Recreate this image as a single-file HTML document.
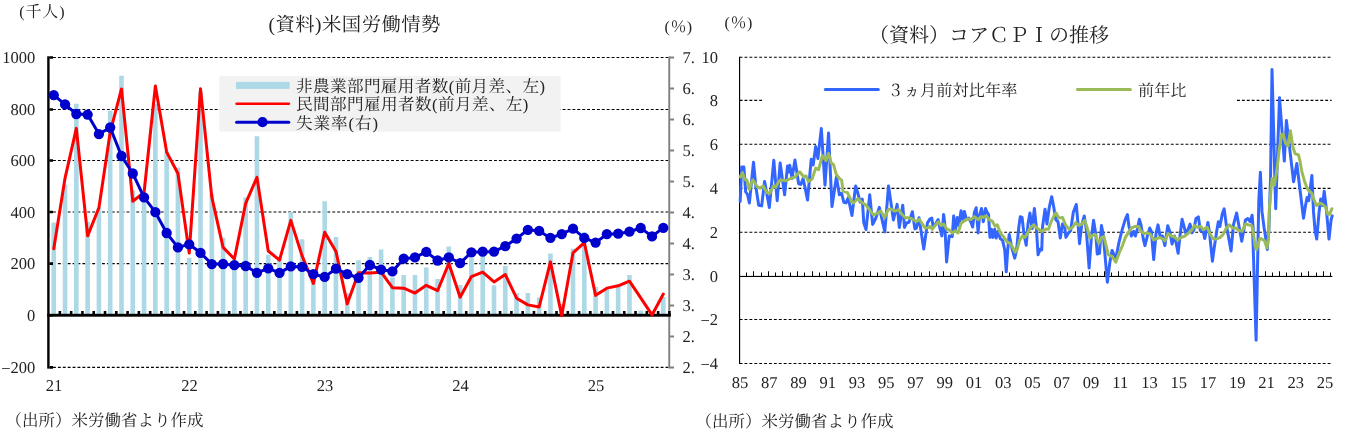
<!DOCTYPE html>
<html lang="ja"><head><meta charset="utf-8"><title>米国労働情勢・コアＣＰＩの推移</title>
<style>html,body{margin:0;padding:0;background:#fff}body{width:1355px;height:439px;overflow:hidden;font-family:"Liberation Serif",serif}svg{display:block;will-change:transform}text{font-family:"Liberation Serif",serif;font-size:16.5px;fill:#222;text-rendering:geometricPrecision}.g{stroke:#000;stroke-width:1.1;stroke-dasharray:2.9 2;fill:none}.cj{fill:#222;font-family:"Liberation Serif","Noto Serif CJK SC","Noto Sans CJK JP",serif}</style>
</head><body>
<svg width="1355" height="439" viewBox="0 0 1355 439">
<rect width="1355" height="439" fill="#fff"/>
<g id="left-chart">
<line class="g" x1="53" y1="57.5" x2="668.35" y2="57.5"/>
<line class="g" x1="53" y1="109.45" x2="668.35" y2="109.45"/>
<line class="g" x1="53" y1="160.45" x2="668.35" y2="160.45"/>
<line class="g" x1="53" y1="212" x2="668.35" y2="212"/>
<line class="g" x1="53" y1="263.6" x2="668.35" y2="263.6"/>
<line class="g" x1="53" y1="367.4" x2="668.35" y2="367.4"/>
<path d="M51.46 222.43h4.6V315.2h-4.6zM62.75 184.55h4.6V315.2h-4.6zM74.04 103.63h4.6V315.2h-4.6zM85.33 221.65h4.6V315.2h-4.6zM96.62 207.74h4.6V315.2h-4.6zM107.9 110.84h4.6V315.2h-4.6zM119.19 75.8h4.6V315.2h-4.6zM130.48 190.22h4.6V315.2h-4.6zM141.77 197.43h4.6V315.2h-4.6zM153.06 103.89h4.6V315.2h-4.6zM164.34 151.3h4.6V315.2h-4.6zM175.63 167.54h4.6V315.2h-4.6zM186.92 257.73h4.6V315.2h-4.6zM198.21 92.03h4.6V315.2h-4.6zM209.5 193.82h4.6V315.2h-4.6zM220.78 237.63h4.6V315.2h-4.6zM232.07 259.79h4.6V315.2h-4.6zM243.36 197.43h4.6V315.2h-4.6zM254.65 136.36h4.6V315.2h-4.6zM265.94 254.64h4.6V315.2h-4.6zM277.22 257.99h4.6V315.2h-4.6zM288.51 212.12h4.6V315.2h-4.6zM299.8 239.18h4.6V315.2h-4.6zM311.09 279.9h4.6V315.2h-4.6zM322.38 201.3h4.6V315.2h-4.6zM333.66 237.12h4.6V315.2h-4.6zM344.95 293.3h4.6V315.2h-4.6zM356.24 260.31h4.6V315.2h-4.6zM367.53 256.96h4.6V315.2h-4.6zM378.82 249.49h4.6V315.2h-4.6zM390.1 277.58h4.6V315.2h-4.6zM401.39 275h4.6V315.2h-4.6zM412.68 275h4.6V315.2h-4.6zM423.97 267.53h4.6V315.2h-4.6zM435.26 279.12h4.6V315.2h-4.6zM446.54 246.39h4.6V315.2h-4.6zM457.83 285.05h4.6V315.2h-4.6zM469.12 257.99h4.6V315.2h-4.6zM480.41 251.81h4.6V315.2h-4.6zM491.7 285.31h4.6V315.2h-4.6zM502.98 265.98h4.6V315.2h-4.6zM514.27 293.3h4.6V315.2h-4.6zM525.56 293.04h4.6V315.2h-4.6zM536.85 297.42h4.6V315.2h-4.6zM548.14 253.61h4.6V315.2h-4.6zM559.42 304.12h4.6V315.2h-4.6zM570.71 248.71h4.6V315.2h-4.6zM582 232.22h4.6V315.2h-4.6zM593.29 287.11h4.6V315.2h-4.6zM604.58 288.4h4.6V315.2h-4.6zM615.86 286.34h4.6V315.2h-4.6zM627.15 275h4.6V315.2h-4.6zM638.44 310.56h4.6V315.2h-4.6zM649.73 311.59h4.6V315.2h-4.6zM661.02 296.9h4.6V315.2h-4.6z" fill="#add8e6"/>
<rect x="219.3" y="76.2" width="341.3" height="55.3" fill="#f2f2f2"/>
<rect x="236" y="81.9" width="53.6" height="7" fill="#add8e6"/>
<line x1="236.6" y1="103.7" x2="288.8" y2="103.7" stroke="#f00" stroke-width="2.6" stroke-linecap="round"/>
<line x1="236.6" y1="122.2" x2="288.8" y2="122.2" stroke="#0000cd" stroke-width="3" stroke-linecap="round"/>
<circle cx="262.5" cy="122.2" r="5.1" fill="#0000cd"/>
<rect x="668.3" y="56.5" width="1.9" height="311.9" fill="#808080"/>
<path d="M669.25 56.5h4.8v2h-4.8zM669.25 87.49h4.8v2h-4.8zM669.25 118.48h4.8v2h-4.8zM669.25 149.47h4.8v2h-4.8zM669.25 180.46h4.8v2h-4.8zM669.25 211.45h4.8v2h-4.8zM669.25 242.44h4.8v2h-4.8zM669.25 273.43h4.8v2h-4.8zM669.25 304.42h4.8v2h-4.8zM669.25 335.41h4.8v2h-4.8zM669.25 366.4h4.8v2h-4.8z" fill="#808080"/>
<rect x="47.2" y="313.8" width="623.7" height="2.9" fill="#000"/>
<path d="M58.56 311h2.6v3h-2.6zM69.85 311h2.6v3h-2.6zM81.13 311h2.6v3h-2.6zM92.42 311h2.6v3h-2.6zM103.71 311h2.6v3h-2.6zM115 311h2.6v3h-2.6zM126.29 311h2.6v3h-2.6zM137.57 311h2.6v3h-2.6zM148.86 311h2.6v3h-2.6zM160.15 311h2.6v3h-2.6zM171.44 311h2.6v3h-2.6zM182.73 311h2.6v3h-2.6zM194.01 311h2.6v3h-2.6zM205.3 311h2.6v3h-2.6zM216.59 311h2.6v3h-2.6zM227.88 311h2.6v3h-2.6zM239.17 311h2.6v3h-2.6zM250.45 311h2.6v3h-2.6zM261.74 311h2.6v3h-2.6zM273.03 311h2.6v3h-2.6zM284.32 311h2.6v3h-2.6zM295.61 311h2.6v3h-2.6zM306.89 311h2.6v3h-2.6zM318.18 311h2.6v3h-2.6zM329.47 311h2.6v3h-2.6zM340.76 311h2.6v3h-2.6zM352.05 311h2.6v3h-2.6zM363.33 311h2.6v3h-2.6zM374.62 311h2.6v3h-2.6zM385.91 311h2.6v3h-2.6zM397.2 311h2.6v3h-2.6zM408.49 311h2.6v3h-2.6zM419.77 311h2.6v3h-2.6zM431.06 311h2.6v3h-2.6zM442.35 311h2.6v3h-2.6zM453.64 311h2.6v3h-2.6zM464.93 311h2.6v3h-2.6zM476.21 311h2.6v3h-2.6zM487.5 311h2.6v3h-2.6zM498.79 311h2.6v3h-2.6zM510.08 311h2.6v3h-2.6zM521.37 311h2.6v3h-2.6zM532.65 311h2.6v3h-2.6zM543.94 311h2.6v3h-2.6zM555.23 311h2.6v3h-2.6zM566.52 311h2.6v3h-2.6zM577.81 311h2.6v3h-2.6zM589.09 311h2.6v3h-2.6zM600.38 311h2.6v3h-2.6zM611.67 311h2.6v3h-2.6zM622.96 311h2.6v3h-2.6zM634.25 311h2.6v3h-2.6zM645.53 311h2.6v3h-2.6zM656.82 311h2.6v3h-2.6zM668.11 311h2.6v3h-2.6z" fill="#000"/>
<rect x="47.2" y="56.3" width="2.4" height="312.3" fill="#000"/>
<path d="M49.4 56.2h3.6v2.6h-3.6zM49.4 108.15h3.6v2.6h-3.6zM49.4 159.15h3.6v2.6h-3.6zM49.4 210.7h3.6v2.6h-3.6zM49.4 262.3h3.6v2.6h-3.6zM49.4 313.9h3.6v2.6h-3.6zM49.4 366.1h3.6v2.6h-3.6z" fill="#000"/>
<polyline points="53.76,248.71 65.05,178.1 76.34,128.37 87.63,235.83 98.92,207.74 110.2,132.23 121.49,88.94 132.78,201.3 144.07,192.53 155.36,86.1 166.64,152.08 177.93,173.47 189.22,253.09 200.51,88.68 211.8,197.17 223.08,247.42 234.37,259.02 245.66,203.36 256.95,177.33 268.24,251.03 279.52,260.05 290.81,220.37 302.1,255.93 313.39,283.5 324.68,232.22 335.96,251.55 347.25,303.86 358.54,272.68 369.83,272.94 381.12,272.16 392.4,287.63 403.69,288.14 414.98,293.04 426.27,285.31 437.56,290.72 448.84,263.4 460.13,297.16 471.42,276.54 482.71,272.16 494,281.96 505.28,274.48 516.57,298.19 527.86,304.89 539.15,306.95 550.44,261.86 561.72,315.72 573.01,252.84 584.3,242.53 595.59,295.36 606.88,288.14 618.16,285.82 629.45,281.18 640.74,297.93 652.03,314.94 663.32,294.07" fill="none" stroke="#f00" stroke-width="3" stroke-linejoin="round" stroke-linecap="round"/>
<polyline points="53.76,95.2 65.05,104.4 76.34,114 87.63,114.6 98.92,134.1 110.2,127.5 121.49,156 132.78,173.5 144.07,197.4 155.36,212.2 166.64,233 177.93,247.4 189.22,244.3 200.51,252.8 211.8,264.1 223.08,264 234.37,265.2 245.66,266 256.95,272.8 268.24,268.4 279.52,272.9 290.81,266.4 302.1,266.8 313.39,274.2 324.68,276.9 335.96,268.7 347.25,274.2 358.54,277.8 369.83,265 381.12,269.6 392.4,271.4 403.69,258.7 414.98,257.4 426.27,251.9 437.56,260.5 448.84,257.4 460.13,263.2 471.42,252.3 482.71,251.7 494,251.7 505.28,246.2 516.57,238.6 527.86,229.8 539.15,230.9 550.44,237.9 561.72,234.2 573.01,228.7 584.3,237.9 595.59,242.6 606.88,234.2 618.16,233.7 629.45,231.7 640.74,228 652.03,236.4 663.32,227.8" fill="none" stroke="#0000cd" stroke-width="3" stroke-linejoin="round" stroke-linecap="round"/>
<g fill="#0000cd"><circle cx="53.76" cy="95.2" r="5.15"/><circle cx="65.05" cy="104.4" r="5.15"/><circle cx="76.34" cy="114" r="5.15"/><circle cx="87.63" cy="114.6" r="5.15"/><circle cx="98.92" cy="134.1" r="5.15"/><circle cx="110.2" cy="127.5" r="5.15"/><circle cx="121.49" cy="156" r="5.15"/><circle cx="132.78" cy="173.5" r="5.15"/><circle cx="144.07" cy="197.4" r="5.15"/><circle cx="155.36" cy="212.2" r="5.15"/><circle cx="166.64" cy="233" r="5.15"/><circle cx="177.93" cy="247.4" r="5.15"/><circle cx="189.22" cy="244.3" r="5.15"/><circle cx="200.51" cy="252.8" r="5.15"/><circle cx="211.8" cy="264.1" r="5.15"/><circle cx="223.08" cy="264" r="5.15"/><circle cx="234.37" cy="265.2" r="5.15"/><circle cx="245.66" cy="266" r="5.15"/><circle cx="256.95" cy="272.8" r="5.15"/><circle cx="268.24" cy="268.4" r="5.15"/><circle cx="279.52" cy="272.9" r="5.15"/><circle cx="290.81" cy="266.4" r="5.15"/><circle cx="302.1" cy="266.8" r="5.15"/><circle cx="313.39" cy="274.2" r="5.15"/><circle cx="324.68" cy="276.9" r="5.15"/><circle cx="335.96" cy="268.7" r="5.15"/><circle cx="347.25" cy="274.2" r="5.15"/><circle cx="358.54" cy="277.8" r="5.15"/><circle cx="369.83" cy="265" r="5.15"/><circle cx="381.12" cy="269.6" r="5.15"/><circle cx="392.4" cy="271.4" r="5.15"/><circle cx="403.69" cy="258.7" r="5.15"/><circle cx="414.98" cy="257.4" r="5.15"/><circle cx="426.27" cy="251.9" r="5.15"/><circle cx="437.56" cy="260.5" r="5.15"/><circle cx="448.84" cy="257.4" r="5.15"/><circle cx="460.13" cy="263.2" r="5.15"/><circle cx="471.42" cy="252.3" r="5.15"/><circle cx="482.71" cy="251.7" r="5.15"/><circle cx="494" cy="251.7" r="5.15"/><circle cx="505.28" cy="246.2" r="5.15"/><circle cx="516.57" cy="238.6" r="5.15"/><circle cx="527.86" cy="229.8" r="5.15"/><circle cx="539.15" cy="230.9" r="5.15"/><circle cx="550.44" cy="237.9" r="5.15"/><circle cx="561.72" cy="234.2" r="5.15"/><circle cx="573.01" cy="228.7" r="5.15"/><circle cx="584.3" cy="237.9" r="5.15"/><circle cx="595.59" cy="242.6" r="5.15"/><circle cx="606.88" cy="234.2" r="5.15"/><circle cx="618.16" cy="233.7" r="5.15"/><circle cx="629.45" cy="231.7" r="5.15"/><circle cx="640.74" cy="228" r="5.15"/><circle cx="652.03" cy="236.4" r="5.15"/><circle cx="663.32" cy="227.8" r="5.15"/></g>
<text x="35.3" y="63.1" text-anchor="end">1000</text>
<text x="35.3" y="115.05" text-anchor="end">800</text>
<text x="35.3" y="166.05" text-anchor="end">600</text>
<text x="35.3" y="217.6" text-anchor="end">400</text>
<text x="35.3" y="269.2" text-anchor="end">200</text>
<text x="35.3" y="320.8" text-anchor="end">0</text>
<text x="35.3" y="373" text-anchor="end"><tspan dy="1.1">−</tspan><tspan dy="-1.1">200</tspan></text>
<text x="54.06" y="390.9" text-anchor="middle">21</text>
<text x="189.52" y="390.9" text-anchor="middle">22</text>
<text x="324.98" y="390.9" text-anchor="middle">23</text>
<text x="460.43" y="390.9" text-anchor="middle">24</text>
<text x="595.89" y="390.9" text-anchor="middle">25</text>
<text x="682.6" y="62.8">7.</text>
<text x="682.6" y="93.79">6.</text>
<text x="682.6" y="124.78">6.</text>
<text x="682.6" y="155.77">5.</text>
<text x="682.6" y="186.76">5.</text>
<text x="682.6" y="217.75">4.</text>
<text x="682.6" y="248.74">4.</text>
<text x="682.6" y="279.73">3.</text>
<text x="682.6" y="310.72">3.</text>
<text x="682.6" y="341.71">2.</text>
<text x="682.6" y="372.7">2.</text>
</g>
<g id="right-chart">
<line class="g" x1="739.6" y1="57.3" x2="1331.6" y2="57.3"/>
<line class="g" x1="739.6" y1="100.4" x2="762" y2="100.4"/>
<line class="g" x1="1237" y1="100.4" x2="1331.6" y2="100.4"/>
<line class="g" x1="739.6" y1="144.2" x2="1331.6" y2="144.2"/>
<line class="g" x1="739.6" y1="188.4" x2="1331.6" y2="188.4"/>
<line class="g" x1="739.6" y1="232.2" x2="1331.6" y2="232.2"/>
<line class="g" x1="739.6" y1="319.5" x2="1331.6" y2="319.5"/>
<line class="g" x1="739.6" y1="363.5" x2="1331.6" y2="363.5"/>
<rect x="739" y="56.8" width="1.15" height="307.2" fill="#000"/>
<rect x="739" y="275.9" width="593.3" height="1.1" fill="#000"/>
<path d="M746 272.5h1v3.7h-1zM753 271.2h1v5h-1zM761 272.5h1v3.7h-1zM768 271.2h1v5h-1zM775 272.5h1v3.7h-1zM782 271.2h1v5h-1zM790 272.5h1v3.7h-1zM797 271.2h1v5h-1zM804 272.5h1v3.7h-1zM812 271.2h1v5h-1zM819 272.5h1v3.7h-1zM826 271.2h1v5h-1zM834 272.5h1v3.7h-1zM841 271.2h1v5h-1zM848 272.5h1v3.7h-1zM855 271.2h1v5h-1zM863 272.5h1v3.7h-1zM870 271.2h1v5h-1zM877 272.5h1v3.7h-1zM885 271.2h1v5h-1zM892 272.5h1v3.7h-1zM899 271.2h1v5h-1zM907 272.5h1v3.7h-1zM914 271.2h1v5h-1zM921 272.5h1v3.7h-1zM929 271.2h1v5h-1zM936 272.5h1v3.7h-1zM943 271.2h1v5h-1zM950 272.5h1v3.7h-1zM958 271.2h1v5h-1zM965 272.5h1v3.7h-1zM972 271.2h1v5h-1zM980 272.5h1v3.7h-1zM987 271.2h1v5h-1zM994 272.5h1v3.7h-1zM1002 271.2h1v5h-1zM1009 272.5h1v3.7h-1zM1016 271.2h1v5h-1zM1023 272.5h1v3.7h-1zM1031 271.2h1v5h-1zM1038 272.5h1v3.7h-1zM1045 271.2h1v5h-1zM1053 272.5h1v3.7h-1zM1060 271.2h1v5h-1zM1067 272.5h1v3.7h-1zM1075 271.2h1v5h-1zM1082 272.5h1v3.7h-1zM1089 271.2h1v5h-1zM1097 272.5h1v3.7h-1zM1104 271.2h1v5h-1zM1111 272.5h1v3.7h-1zM1118 271.2h1v5h-1zM1126 272.5h1v3.7h-1zM1133 271.2h1v5h-1zM1140 272.5h1v3.7h-1zM1148 271.2h1v5h-1zM1155 272.5h1v3.7h-1zM1162 271.2h1v5h-1zM1170 272.5h1v3.7h-1zM1177 271.2h1v5h-1zM1184 272.5h1v3.7h-1zM1191 271.2h1v5h-1zM1199 272.5h1v3.7h-1zM1206 271.2h1v5h-1zM1213 272.5h1v3.7h-1zM1221 271.2h1v5h-1zM1228 272.5h1v3.7h-1zM1235 271.2h1v5h-1zM1243 272.5h1v3.7h-1zM1250 271.2h1v5h-1zM1257 272.5h1v3.7h-1zM1265 271.2h1v5h-1zM1272 272.5h1v3.7h-1zM1279 271.2h1v5h-1zM1286 272.5h1v3.7h-1zM1294 271.2h1v5h-1zM1301 272.5h1v3.7h-1zM1308 271.2h1v5h-1zM1316 272.5h1v3.7h-1zM1323 271.2h1v5h-1zM1330 272.5h1v3.7h-1z" fill="#000"/>
<polyline points="740.18,201.5 741.66,167.1 743.88,167.1 745.66,191.8 747.58,194.8 749.36,203 753.5,162.2 755.73,185.9 758.69,205.2 761.65,205.9 764.61,181.4 769.34,207.4 773.79,160.3 777.19,200.7 780.15,162.9 784.59,194.8 787.55,165.9 788.59,172 789.77,165.2 791.99,178.5 794.96,160 798.66,183.7 800.88,184.4 803.1,178.5 805.32,188.9 807.54,200 811.24,159.2 813.16,165 815.68,146.6 817.9,158.5 821.31,128.6 825.01,185.2 828.56,133 831.97,206.6 836.41,177 839.37,194.8 841.59,193.3 843.81,202.2 846.03,202.9 848.25,197.8 851.95,215.5 855.65,185.9 857.87,193.3 860.09,202.2 862.31,199.2 863.79,222.9 866.01,229.6 869.72,194.8 872.68,224.4 875.64,218.5 879.34,207.4 884.81,231.8 888.52,185.9 893.4,220 897.1,204.4 899.32,227.4 902.73,205.2 904.5,227.4 906.72,222.9 908.95,222.2 912.35,211.8 914.87,228.9 916.35,228.1 919.01,217.7 923.75,249 927.45,222.9 930,218.87 931.78,218.13 932.96,225.53 935.18,224.79 938.14,219.61 939.62,227.01 941.84,235.89 943.62,214.43 944.8,224.05 946.58,261.9 949.25,235.89 952.21,236.63 953.69,215.91 955.46,229.97 957.39,217.39 958.87,225.53 961.09,210.73 962.86,219.61 964.34,211.47 966.27,218.87 968.79,218.13 970.71,221.83 972.64,227.01 974.41,212.21 976.19,207.76 978.11,232.93 979.59,215.17 981.52,208.5 983.29,221.83 985.51,208.5 986.99,212.21 988.48,214.43 989.96,237.37 991.44,229.23 992.92,237.37 994.69,229.23 996.17,238.11 998.1,231.45 1000.32,238.85 1002.54,240.33 1004.76,250 1006.24,271.8 1007.72,250 1009.2,234.4 1011.42,246 1014.68,258.1 1016.6,250 1018.82,227 1020.3,216.65 1022.08,217.39 1024,234.41 1026.23,245.2 1028,224.05 1029.93,212.95 1032.15,228.49 1034.37,208.5 1036.29,227.01 1038.07,254.8 1040.29,249 1041.77,250 1042.51,227.01 1045.03,209.25 1046.95,224.05 1049.17,207.76 1051.69,196.66 1053.61,206.28 1055.83,219.61 1058.05,221.83 1060.27,238.11 1062.49,224.05 1064.72,227.01 1065.9,237.37 1068.42,232.93 1070.64,230.71 1073.3,212.21 1076.26,204.51 1078.04,224.05 1079.52,243.7 1081.74,224.79 1084.26,215.91 1086.18,228.49 1089.14,268.1 1091.36,237.37 1093.58,220.35 1095.8,234.41 1097.28,254.1 1099.5,253.3 1101.43,225.53 1103.21,234.41 1107.35,282.2 1109.87,262.2 1112.09,250.4 1115.79,259.2 1118.75,243.29 1121.71,231.45 1125,220.09 1127.39,214.51 1128.99,226.47 1131.38,236.04 1133.77,231.25 1135.37,236.04 1137.44,228.86 1139.35,219.29 1140.95,224.87 1143.34,239.23 1144.94,245.61 1147.33,236.04 1149.72,228.06 1151.32,231.25 1153.71,259.6 1156.1,232.85 1158.01,224.87 1160.09,236.04 1162.48,236.04 1164.87,245.61 1167.74,225.67 1169.66,231.25 1172.05,244.01 1174.44,236.04 1176.04,242.42 1178.11,253.3 1180.34,232.85 1182.1,219.29 1184.01,226.47 1185.61,232.85 1188,229.66 1190.07,224.07 1191.99,232.85 1193.9,229.66 1195.97,218.49 1198.37,216.9 1200.28,230.45 1203.15,231.25 1204.74,238.43 1207.93,222.48 1209.53,232.85 1212.4,261.2 1214.31,247.2 1216.71,231.25 1218.3,221.68 1219.9,226.47 1222.29,213.71 1224.2,208.92 1226.28,224.87 1228.67,237.63 1231.06,250.9 1233.45,224.87 1236.64,212.91 1239.04,226.47 1241.75,241.3 1243.82,229.66 1245.41,220.09 1247.81,218.49 1250.2,221.68 1252.11,215.3 1253.39,231.25 1252.7,232 1256.1,340.3 1258.8,200.7 1260.4,172.2 1262,211.9 1264.1,227.8 1266.1,240.6 1267.3,249.5 1268.9,227.8 1270.5,180 1272,69.4 1275.7,208.7 1279.5,97.7 1284.3,161.1 1286.4,120.4 1293.6,181.8 1296.8,163.5 1303.5,218.3 1305.5,205.5 1307.1,197.5 1308.7,200.7 1311.9,175.4 1313.5,211.9 1315.1,231 1316.7,239 1319.1,211.9 1320.7,199.1 1322.6,205.5 1324.2,191.2 1326.3,208.7 1329,239 1331.1,219.9 1332.2,215.9" fill="none" stroke="#36f" stroke-width="3" stroke-linejoin="round" stroke-linecap="round"/>
<polyline points="740.18,176.99 742.4,172.55 744.62,179.22 746.84,180 749.36,189.62 751.28,182.96 752.76,179.96 754.99,182.96 757.21,186.66 760.17,188.14 763.13,185.92 766.83,192.58 769.79,193.32 773.49,185.92 775.71,187.4 778.67,181.48 780.89,179.96 786.07,180.7 790.51,178.48 794.96,176.99 799.69,171.81 803.84,176.99 806.06,175.96 808.28,181.44 811.98,179.22 815.68,168.11 818.64,169.59 822.34,155.53 826.04,160.71 828.56,153.31 831.23,162.93 833.45,164.41 836.41,174.77 840.11,179.22 841.59,180 843.07,191.1 847.51,192.58 851.95,202.21 853.43,202.95 857.87,198.5 861.57,202.21 865.27,204.43 868.97,208.87 873.42,214.79 877.12,213.31 880.82,211.09 884.52,217.75 888.22,209.61 890.44,208.87 894.88,211.09 898.58,209.61 902.28,214.79 905.24,217.75 908.95,217.75 912.65,219.23 916.35,221.45 919.31,219.23 923.01,225.15 925.23,228.11 928.93,227.37 930,226.27 932.22,229.23 935.18,225.53 938.14,221.83 941.1,225.53 943.62,224.05 946.28,228.49 949.25,229.97 952.21,232.93 955.17,230.71 958.13,232.93 961.09,223.31 964.05,221.09 967.75,218.87 970.71,219.61 974.41,216.65 978.11,219.61 981.07,216.65 983.29,217.39 986.25,215.91 989.22,219.61 992.18,221.09 995.14,226.27 997.36,224.79 1000.32,232.93 1004.02,237.37 1006.98,241.81 1009.94,243.29 1012.9,247.74 1015.12,252.2 1017.34,249.22 1019.56,240.33 1022.52,235.89 1024.74,237.37 1026.97,234.41 1029.93,228.49 1033.63,224.79 1036.59,227.75 1039.55,229.97 1041.77,231.45 1044.73,229.23 1048.43,229.23 1051.39,221.09 1053.61,216.65 1056.13,212.95 1058.79,218.13 1062.49,217.39 1065.46,224.79 1069.16,229.23 1072.12,227.75 1075.82,222.57 1078.78,225.53 1081.74,224.05 1084.7,220.35 1086.92,227.01 1089.88,238.11 1092.84,235.15 1095.06,234.41 1098.76,243.29 1101.72,237.37 1103.95,236.63 1106.17,246.25 1108.39,254.8 1112.09,256.3 1115.79,262.2 1118.75,254 1122.45,245.5 1125.41,237.37 1128.19,232.85 1131.38,228.06 1134.57,226.47 1138.56,226.47 1140.95,231.25 1144.14,233.64 1147.33,232.85 1150.52,234.44 1153.71,240.02 1156.9,238.43 1160.09,237.63 1163.28,239.23 1164.87,240.82 1168.06,233.64 1171.25,236.04 1174.44,236.83 1177.63,240.02 1180.82,237.63 1184.81,236.04 1188.8,232.85 1191.99,229.66 1194.38,225.67 1197.57,227.26 1200.76,226.47 1203.15,229.66 1207.14,227.26 1209.53,232.85 1212.72,238.43 1215.91,239.23 1219.9,237.63 1223.09,234.44 1226.28,228.06 1229.47,224.87 1232.66,228.06 1235.85,228.06 1239.04,230.45 1242.22,231.25 1245.41,224.07 1248.6,224.87 1251.79,225.67 1253.39,232.85 1254.98,245.61 1256.58,249.59 1259.77,238.43 1262.16,239.23 1264.55,240.82 1266.95,248 1268.54,237.63 1269.34,208.92 1272,178.6 1274.4,185 1276.8,170.6 1279.2,149.9 1281.6,134.7 1283.2,134 1285.6,143.5 1288,145.9 1290.4,130.8 1292.8,146.7 1295.2,153.9 1298.4,154.7 1300,161 1301.6,170.6 1304.7,181.8 1307.1,188 1307.9,189.6 1311.9,193.6 1314.3,200.7 1316.7,205.5 1319.9,203.1 1323.1,204.7 1325.5,207.1 1327.9,214.3 1329.5,214.3 1331.9,208.7" fill="none" stroke="#9bbb59" stroke-width="3" stroke-linejoin="round" stroke-linecap="round"/>
<line x1="825.3" y1="89.5" x2="878.3" y2="89.5" stroke="#36f" stroke-width="3" stroke-linecap="round"/>
<line x1="1077.4" y1="89.5" x2="1130.4" y2="89.5" stroke="#9bbb59" stroke-width="3" stroke-linecap="round"/>
<text x="718" y="63.1" text-anchor="end">10</text>
<text x="718" y="106.2" text-anchor="end">8</text>
<text x="718" y="150" text-anchor="end">6</text>
<text x="718" y="194.2" text-anchor="end">4</text>
<text x="718" y="238" text-anchor="end">2</text>
<text x="718" y="282.2" text-anchor="end">0</text>
<text x="718" y="325.3" text-anchor="end"><tspan dy="1.1">−</tspan><tspan dy="-1.1">2</tspan></text>
<text x="718" y="369.3" text-anchor="end"><tspan dy="1.1">−</tspan><tspan dy="-1.1">4</tspan></text>
<text x="740" y="387.6" text-anchor="middle">85</text>
<text x="769.25" y="387.6" text-anchor="middle">87</text>
<text x="798.5" y="387.6" text-anchor="middle">89</text>
<text x="827.75" y="387.6" text-anchor="middle">91</text>
<text x="857" y="387.6" text-anchor="middle">93</text>
<text x="886.25" y="387.6" text-anchor="middle">95</text>
<text x="915.5" y="387.6" text-anchor="middle">97</text>
<text x="944.75" y="387.6" text-anchor="middle">99</text>
<text x="974" y="387.6" text-anchor="middle">01</text>
<text x="1003.25" y="387.6" text-anchor="middle">03</text>
<text x="1032.5" y="387.6" text-anchor="middle">05</text>
<text x="1061.75" y="387.6" text-anchor="middle">07</text>
<text x="1091" y="387.6" text-anchor="middle">09</text>
<text x="1120.25" y="387.6" text-anchor="middle">11</text>
<text x="1149.5" y="387.6" text-anchor="middle">13</text>
<text x="1178.75" y="387.6" text-anchor="middle">15</text>
<text x="1208" y="387.6" text-anchor="middle">17</text>
<text x="1237.25" y="387.6" text-anchor="middle">19</text>
<text x="1266.5" y="387.6" text-anchor="middle">21</text>
<text x="1295.75" y="387.6" text-anchor="middle">23</text>
<text x="1325" y="387.6" text-anchor="middle">25</text>
</g>
<text class="cj" x="19.3" y="17" style="font-size:16px" textLength="45.2" lengthAdjust="spacing">(千人)</text>
<text class="cj" x="268.5" y="30.5" style="font-size:19.4px" textLength="172" lengthAdjust="spacing">(資料)米国労働情勢</text>
<text class="cj" x="664.6" y="31.5" style="font-size:16px" textLength="27.6" lengthAdjust="spacing">(％)</text>
<text class="cj" x="724.6" y="28" style="font-size:16px" textLength="27.8" lengthAdjust="spacing">(％)</text>
<text class="cj" x="869" y="41.5" style="font-size:20px" textLength="240" lengthAdjust="spacing">（資料）コアＣＰＩの推移</text>
<text class="cj" x="887.5" y="95.5" style="font-size:16.2px" textLength="130" lengthAdjust="spacing">３ヵ月前対比年率</text>
<text class="cj" x="1138" y="95.5" style="font-size:16px" textLength="48.4" lengthAdjust="spacing">前年比</text>
<text class="cj" x="5.5" y="426" style="font-size:16.5px" textLength="198" lengthAdjust="spacing">（出所）米労働省より作成</text>
<text class="cj" x="695.5" y="427" style="font-size:16.5px" textLength="198" lengthAdjust="spacing">（出所）米労働省より作成</text>
<text class="cj" x="296" y="92" style="font-size:16.6px" textLength="249" lengthAdjust="spacing">非農業部門雇用者数(前月差、左)</text>
<text class="cj" x="296" y="109.8" style="font-size:16.6px" textLength="232.4" lengthAdjust="spacing">民間部門雇用者数(前月差、左)</text>
<text class="cj" x="296" y="128.9" style="font-size:16.6px" textLength="82" lengthAdjust="spacing">失業率(右)</text>
</svg></body></html>
